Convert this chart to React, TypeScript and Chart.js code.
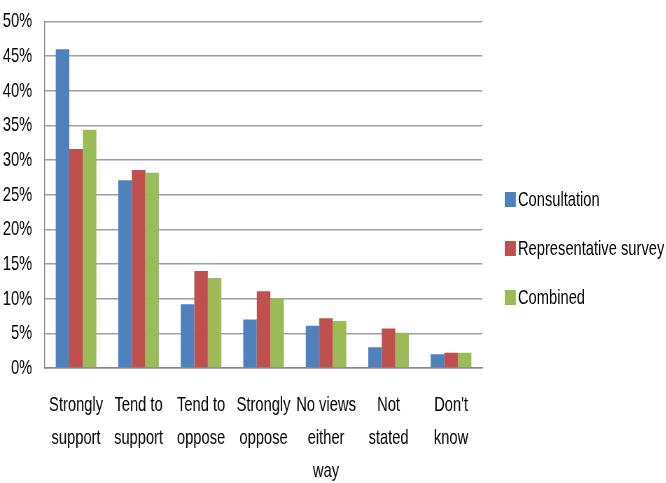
import React, { useEffect, useRef } from "react";
import { Chart, registerables } from "chart.js";

Chart.register(...registerables);

const categories: string[][] = [
  ["Strongly", "support"],
  ["Tend to", "support"],
  ["Tend to", "oppose"],
  ["Strongly", "oppose"],
  ["No views", "either", "way"],
  ["Not", "stated"],
  ["Don't", "know"],
];
const seriesNames = ["Consultation", "Representative survey", "Combined"];
const seriesColors = ["#4F81BD", "#C0504D", "#9BBB59"];
const consultation = [46, 27.1, 9.2, 7, 6.1, 3, 2];
const representative = [31.6, 28.6, 14, 11.1, 7.2, 5.7, 2.2];
const combined = [34.4, 28.2, 13, 10.1, 6.8, 5.1, 2.2];
const yTicks = [0, 5, 10, 15, 20, 25, 30, 35, 40, 45, 50];

const FONT = "'Liberation Sans', Arial, sans-serif";
const SQUEEZE = 0.7;
const W = 666;
const H = 483;
const IW = Math.round(W / SQUEEZE);
const SHIFT = 9;
const CH = H + SHIFT;

export default function App() {
  const ref = useRef<HTMLCanvasElement | null>(null);
  useEffect(() => {
    if (!ref.current) return;
    const chart = new Chart(ref.current, {
      type: "bar",
      data: {
        labels: categories,
        datasets: [
          { label: seriesNames[0], data: consultation, backgroundColor: seriesColors[0] },
          { label: seriesNames[1], data: representative, backgroundColor: seriesColors[1] },
          { label: seriesNames[2], data: combined, backgroundColor: seriesColors[2] },
        ],
      },
      options: {
        responsive: false,
        animation: false,
        datasets: { bar: { categoryPercentage: 0.65, barPercentage: 1 } },
        layout: { padding: { top: 0, left: 0, right: 262, bottom: -26 } },
        plugins: {
          tooltip: { enabled: false },
          legend: { display: false },
        },
        scales: {
          x: {
            grid: { display: false, drawTicks: false },
            border: { display: true, color: "#888", width: 1.4 },
            ticks: {
              color: "#000",
              font: { family: FONT, size: 21, lineHeight: 1.57 },
              maxRotation: 0,
              autoSkip: false,
              padding: 21,
            },
          },
          y: {
            min: 0,
            max: 50,
            afterBuildTicks: (axis: any) => {
              axis.ticks = yTicks.map((v) => ({ value: v }));
            },
            afterFit: (axis: any) => {
              axis.width = 64;
            },
            grid: { color: "#a0a0a0", lineWidth: 1.5, drawTicks: false },
            border: { display: true, color: "#888", width: 1.4 },
            ticks: {
              color: "#000",
              font: { family: FONT, size: 21 },
              padding: 18,
              callback: (v: any) => v + "%",
            },
          },
        },
      },
    });
    return () => chart.destroy();
  }, []);
  const legendTops = [199, 248, 297];
  return (
    <div style={{ position: "absolute", left: 0, top: 0, width: W, height: H, overflow: "hidden", background: "#fff" }}>
      <div style={{ position: "relative", width: IW, height: H, transform: `scaleX(${SQUEEZE})`, transformOrigin: "0 0" }}>
        <canvas ref={ref} width={IW} height={CH} style={{ position: "absolute", left: 0, top: -SHIFT }} />
        {seriesNames.map((name, i) => (
          <div
            key={name}
            style={{
              position: "absolute",
              left: 721,
              top: legendTops[i] - 13,
              height: 26,
              display: "flex",
              alignItems: "center",
              whiteSpace: "nowrap",
              fontFamily: FONT,
              fontSize: 21,
              color: "#000",
            }}
          >
            <span style={{ display: "inline-block", width: 16, height: 15, background: seriesColors[i], marginRight: 3 }} />
            <span>{name}</span>
          </div>
        ))}
      </div>
    </div>
  );
}
